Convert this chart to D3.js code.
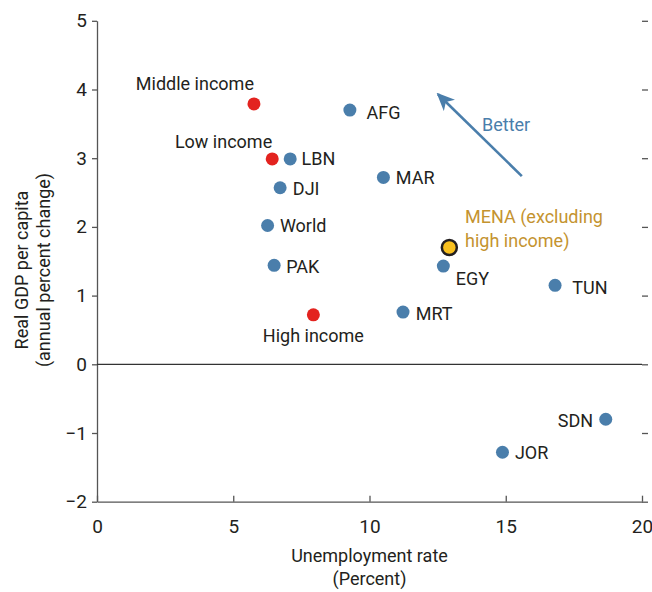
<!DOCTYPE html>
<html lang="en">
<head>
<meta charset="utf-8">
<title>Unemployment vs GDP per capita</title>
<script src="https://d3js.org/d3.v7.min.js"></script>
<style>
  body { margin: 0; background: #fff; }
  text { font-family: Roboto, "Liberation Sans", sans-serif; fill: #231f20; }
</style>
</head>
<body>
<script>
// data: unemployment rate (%), real GDP per capita growth (%)
var names = ["Middle income", "Low income", "High income", "AFG", "LBN", "DJI", "World", "PAK",
             "MAR", "MENA", "EGY", "TUN", "MRT", "SDN", "JOR"];
var unemployment = [5.76, 6.43, 7.94, 9.28, 7.09, 6.72, 6.26, 6.50, 10.51, 12.93, 12.71, 16.81, 11.23, 18.67, 14.88];
var gdpGrowth = [3.79, 2.99, 0.72, 3.70, 2.99, 2.57, 2.02, 1.44, 2.72, 1.70, 1.43, 1.15, 0.76, -0.80, -1.28];
var groups = ["income", "income", "income", "country", "country", "country", "country", "country",
              "country", "mena", "country", "country", "country", "country", "country"];
var xTicks = [0, 5, 10, 15, 20];
var yTicks = [-2, -1, 0, 1, 2, 3, 4, 5];
// "Better" arrow, from / to in data units
var arrowFrom = [15.59, 2.74];
var arrowTo = [12.44, 3.96];

// label placement (offsets from the dot, px)
var labelPos = {
  "Middle income": [0, -13.6, "end"],
  "Low income": [0, -11, "end"],
  "High income": [0, 27, "middle"],
  "AFG": [16.7, 9, "start"],
  "LBN": [11.4, 6.5, "start"],
  "DJI": [12.7, 7, "start"],
  "World": [12.3, 6.6, "start"],
  "PAK": [12, 7.6, "start"],
  "MAR": [12.4, 6.7, "start"],
  "EGY": [12.4, 19, "start"],
  "TUN": [17.3, 9, "start"],
  "MRT": [12.7, 8.4, "start"],
  "SDN": [-12.7, 7.4, "end"],
  "JOR": [12.4, 7, "start"]
};

var w = 652, h = 592;
var padL = 97, padR = 642, padT = 20.8, padB = 501.7;
var fs = "18px";

var data = names.map(function(n, i) {
  return { name: n, x: unemployment[i], y: gdpGrowth[i], group: groups[i] };
});

var xScale = d3.scaleLinear().domain([0, 20]).range([padL, padR]);
var yScale = d3.scaleLinear().domain([-2, 5]).range([padB, padT]);

var svg = d3.select("body").append("svg")
  .attr("width", w)
  .attr("height", h);

// axes
var yAxis = svg.append("g")
  .attr("transform", "translate(" + padL + ",0)")
  .call(d3.axisLeft(yScale).tickValues(yTicks).tickFormat(d3.format("d"))
    .tickSize(5).tickSizeOuter(0).tickPadding(5));
var xAxis = svg.append("g")
  .attr("transform", "translate(0," + padB + ")")
  .call(d3.axisBottom(xScale).tickValues(xTicks).tickFormat(d3.format("d"))
    .tickSize(-6).tickSizeOuter(0).tickPadding(18));
var rAxis = svg.append("g")
  .attr("transform", "translate(" + padR + ",0)")
  .call(d3.axisRight(yScale).tickValues(yTicks).tickSize(6).tickFormat(""));
rAxis.select(".domain").remove();

[yAxis, xAxis, rAxis].forEach(function(g) {
  g.select(".domain").attr("stroke", "#555").attr("stroke-width", 1.3);
  g.selectAll(".tick line").attr("stroke", "#555").attr("stroke-width", 1.3);
  g.selectAll(".tick text").attr("font-size", "19px").attr("fill", "#231f20")
    .style("font-family", "Roboto, 'Liberation Sans', sans-serif");
});

// zero line
svg.append("line")
  .attr("x1", xScale(0)).attr("x2", xScale(20))
  .attr("y1", yScale(0)).attr("y2", yScale(0))
  .attr("stroke", "#333").attr("stroke-width", 1.3);

// axis titles
svg.append("text")
  .attr("x", 369.5).attr("y", 561.5)
  .attr("text-anchor", "middle").attr("font-size", fs)
  .text("Unemployment rate");
svg.append("text")
  .attr("x", 369.5).attr("y", 585)
  .attr("text-anchor", "middle").attr("font-size", fs)
  .text("(Percent)");
svg.append("text")
  .attr("transform", "translate(28,270) rotate(-90)")
  .attr("text-anchor", "middle").attr("font-size", fs)
  .text("Real GDP per capita");
svg.append("text")
  .attr("transform", "translate(50,270) rotate(-90)")
  .attr("text-anchor", "middle").attr("font-size", fs)
  .text("(annual percent change)");

// better arrow
svg.append("defs").append("marker")
  .attr("id", "head")
  .attr("markerUnits", "userSpaceOnUse")
  .attr("viewBox", "0 0 18 16")
  .attr("refX", 16).attr("refY", 8)
  .attr("markerWidth", 18).attr("markerHeight", 16)
  .attr("orient", "auto")
  .append("path")
  .attr("d", "M0,0 L18,8 L0,16 L5,8 Z")
  .attr("fill", "#4a7eab");

svg.append("line")
  .attr("x1", xScale(arrowFrom[0])).attr("y1", yScale(arrowFrom[1]))
  .attr("x2", xScale(arrowTo[0]) + 2).attr("y2", yScale(arrowTo[1]) + 2)
  .attr("stroke", "#4a7eab").attr("stroke-width", 2.6)
  .attr("marker-end", "url(#head)");

svg.append("text")
  .attr("x", 482).attr("y", 130.5)
  .attr("font-size", fs)
  .style("fill", "#4a7eab")
  .text("Better");

// dots
var colour = { income: "#e3231f", country: "#4a7eab", mena: "#f9c01e" };

svg.selectAll("circle.dot")
  .data(data)
  .enter()
  .append("circle")
  .attr("class", "dot")
  .attr("cx", function(d) { return xScale(d.x); })
  .attr("cy", function(d) { return yScale(d.y); })
  .attr("r", function(d) { return d.group == "mena" ? 7.5 : 6.5; })
  .attr("fill", function(d) { return colour[d.group]; })
  .attr("stroke", function(d) { return d.group == "mena" ? "#231f20" : "none"; })
  .attr("stroke-width", 2.5);

// labels
svg.selectAll("text.lbl")
  .data(data.filter(function(d) { return labelPos[d.name]; }))
  .enter()
  .append("text")
  .attr("class", "lbl")
  .attr("x", function(d) { return xScale(d.x) + labelPos[d.name][0]; })
  .attr("y", function(d) { return yScale(d.y) + labelPos[d.name][1]; })
  .attr("text-anchor", function(d) { return labelPos[d.name][2]; })
  .attr("font-size", fs)
  .text(function(d) { return d.name; });

// MENA label, two lines
var mena = data.filter(function(d) { return d.group == "mena"; })[0];
var menaText = svg.append("text")
  .attr("font-size", fs)
  .style("fill", "#c4932f");
menaText.append("tspan")
  .attr("x", xScale(mena.x) + 15.7).attr("y", yScale(mena.y) - 24.3)
  .text("MENA (excluding");
menaText.append("tspan")
  .attr("x", xScale(mena.x) + 15.7).attr("y", yScale(mena.y) - 0.6)
  .text("high income)");
</script>
</body>
</html>
